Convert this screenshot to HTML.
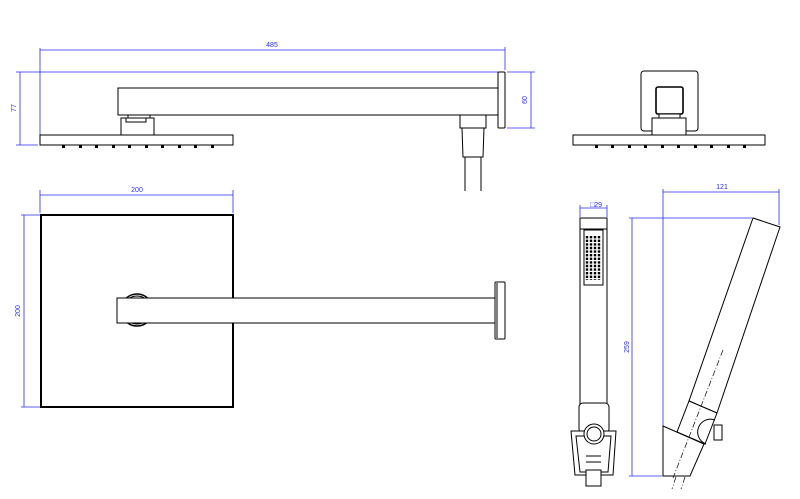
<!DOCTYPE html>
<html><head><style>html,body{margin:0;padding:0;background:#fff}svg{display:block}</style></head>
<body>
<svg width="800" height="499" viewBox="0 0 800 499" xmlns="http://www.w3.org/2000/svg" font-family="Liberation Sans, sans-serif">
<g stroke="#2a2aff" stroke-width="0.8" fill="none">
 <line x1="40" y1="50" x2="505" y2="50"/>
 <line x1="40" y1="48" x2="40" y2="142"/>
 <line x1="505" y1="47" x2="505" y2="70"/>
 <line x1="16" y1="72" x2="498" y2="72"/>
 <line x1="16" y1="145" x2="38" y2="145"/>
 <line x1="20" y1="72" x2="20" y2="145"/>
 <line x1="507" y1="72" x2="535" y2="72"/>
 <line x1="507" y1="128" x2="535" y2="128"/>
 <line x1="531" y1="72" x2="531" y2="128"/>
 <line x1="40" y1="195" x2="233" y2="195"/>
 <line x1="40" y1="190" x2="40" y2="213"/>
 <line x1="233" y1="190" x2="233" y2="213"/>
 <line x1="21" y1="215" x2="40" y2="215"/>
 <line x1="21" y1="407" x2="40" y2="407"/>
 <line x1="24" y1="215" x2="24" y2="407"/>
 <line x1="580" y1="208" x2="607" y2="208"/>
 <line x1="580" y1="205" x2="580" y2="217"/>
 <line x1="607" y1="205" x2="607" y2="217"/>
 <line x1="663" y1="192" x2="779" y2="192"/>
 <line x1="663" y1="189" x2="663" y2="428"/>
 <line x1="779" y1="189" x2="779" y2="225"/>
 <line x1="629" y1="218" x2="752" y2="218"/>
 <line x1="629" y1="476" x2="662" y2="476"/>
 <line x1="632" y1="218" x2="632" y2="476"/>
</g>
<g fill="#2a2aff" font-size="7">
 <text x="272" y="47" text-anchor="middle">485</text>
 <text x="137" y="192" text-anchor="middle">200</text>
 <text x="722" y="189" text-anchor="middle">121</text>
 <text x="596" y="207" text-anchor="middle">□29</text>
 <text transform="translate(16,108) rotate(-90)" text-anchor="middle">77</text>
 <text transform="translate(527,100) rotate(-90)" text-anchor="middle">60</text>
 <text transform="translate(20,311) rotate(-90)" text-anchor="middle">200</text>
 <text transform="translate(629,347) rotate(-90)" text-anchor="middle">259</text>
</g>
<g stroke="#000" fill="#fff" stroke-width="1">
 <rect x="118" y="88" width="380" height="27"/>
 <rect x="498" y="72" width="7" height="56" rx="1"/>
 <rect x="128" y="115" width="22" height="6"/>
 <rect x="121" y="118" width="33" height="17"/>
 <rect x="126" y="118" width="20" height="4"/>
 <rect x="40" y="135" width="193" height="10"/>
 <rect x="460" y="115" width="26" height="13"/>
 <polygon points="462,128 484,128 483,157 463,157"/>
 <line x1="465" y1="157" x2="465" y2="191"/>
 <line x1="481" y1="157" x2="481" y2="191"/>
 <rect x="41" y="215" width="192" height="192" stroke-width="2"/>
 <circle cx="137" cy="310" r="16" stroke-width="1.5"/>
 <circle cx="137" cy="310" r="14" stroke-width="1"/>
 <rect x="117" y="298" width="379" height="25"/>
 <rect x="495" y="282" width="10" height="57" rx="1"/>
 <line x1="497" y1="283" x2="497" y2="338"/>
 <rect x="641" y="71" width="57" height="60" rx="3"/>
 <rect x="656" y="87" width="27" height="27" rx="2" stroke-width="1.6"/>
 <rect x="659" y="114" width="21" height="5"/>
 <rect x="652" y="118" width="34" height="17"/>
 <rect x="573" y="135" width="192" height="10"/>
 <rect x="580" y="218" width="27" height="192"/>
 <line x1="580" y1="229" x2="607" y2="229"/>
 <rect x="584" y="230" width="19" height="55"/>
 <rect x="579" y="403" width="30" height="30" rx="4"/>
 <polygon points="571,431 616,431 613,475 575,475"/>
 <polygon points="576,436 611,436 608,472 580,472" fill="none"/>
 <rect x="586" y="470" width="15" height="16"/>
 <line x1="586" y1="456" x2="601" y2="456"/>
 <line x1="586" y1="462" x2="601" y2="462"/>
 <circle cx="594" cy="434" r="10"/>
 <circle cx="594" cy="434" r="7"/>
 <polygon points="753,218 780,227 717,413 689,401"/>
 <polygon points="689,401 717,413 705,444 677,432"/>
 <path d="M715,420 A12,12 0 0 0 706,444" fill="none"/>
 <rect x="714" y="425" width="8" height="15"/>
 <polygon points="663,426 704,444 690,476 663,476"/>
</g>
<g fill="#000">
 <rect x="62" y="145" width="3" height="3"/><rect x="79" y="145" width="3" height="3"/><rect x="95" y="145" width="3" height="3"/><rect x="112" y="145" width="3" height="3"/><rect x="128" y="145" width="3" height="3"/><rect x="145" y="145" width="3" height="3"/><rect x="161" y="145" width="3" height="3"/><rect x="178" y="145" width="3" height="3"/><rect x="194" y="145" width="3" height="3"/><rect x="211" y="145" width="3" height="3"/>
 <rect x="595" y="145" width="3" height="3"/><rect x="611" y="145" width="3" height="3"/><rect x="628" y="145" width="3" height="3"/><rect x="644" y="145" width="3" height="3"/><rect x="661" y="145" width="3" height="3"/><rect x="677" y="145" width="3" height="3"/><rect x="694" y="145" width="3" height="3"/><rect x="710" y="145" width="3" height="3"/><rect x="727" y="145" width="3" height="3"/><rect x="743" y="145" width="3" height="3"/>
</g>
<g stroke="#000" stroke-width="2.4" stroke-dasharray="2.4 1.2">
 <line x1="587" y1="236" x2="587" y2="280"/><line x1="591" y1="236" x2="591" y2="280"/><line x1="595" y1="236" x2="595" y2="280"/><line x1="599" y1="236" x2="599" y2="280"/>
</g>
<g stroke="#000" stroke-width="0.7" stroke-dasharray="6 2 1 2" fill="none">
 <line x1="723" y1="350" x2="673" y2="478"/>
 <line x1="676" y1="477" x2="672" y2="489"/>
 <line x1="685" y1="477" x2="681" y2="489"/>
</g>
</svg>
</body></html>
